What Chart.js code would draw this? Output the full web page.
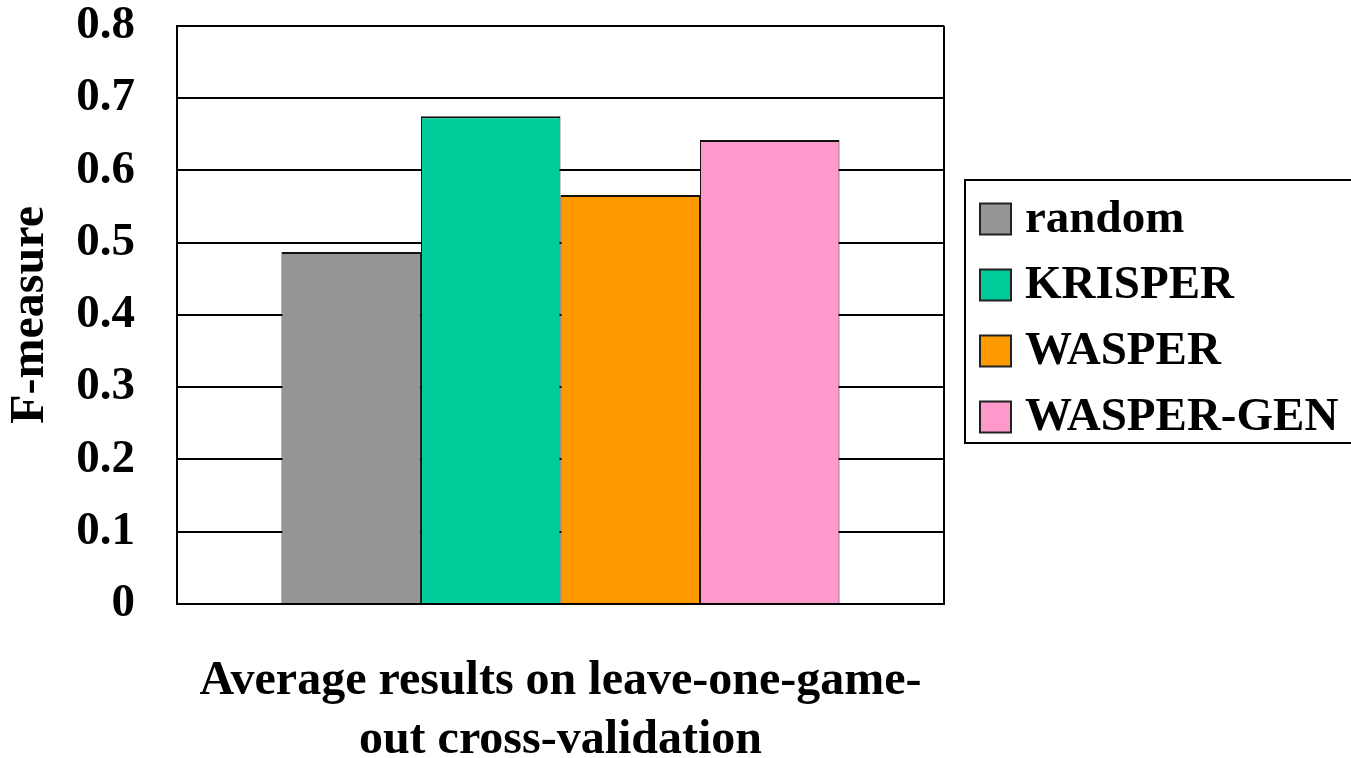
<!DOCTYPE html>
<html>
<head>
<meta charset="utf-8">
<script src="https://cdn.jsdelivr.net/npm/chart.js@4/dist/chart.umd.min.js"></script>
<style>
  html, body { margin: 0; padding: 0; background: #fff; }
  #wrap { width: 1351px; height: 758px; position: relative; }
</style>
</head>
<body>
<div id="wrap"><canvas id="c"></canvas></div>
<script>
const categories = [''];
const seriesNames = ['random', 'KRISPER', 'WASPER', 'WASPER-GEN'];
const randomValues = [0.487];
const krisperValues = [0.675];
const wasperValues = [0.566];
const wasperGenValues = [0.642];
const yTickLabels = ['0', '0.1', '0.2', '0.3', '0.4', '0.5', '0.6', '0.7', '0.8'];
const seriesColors = ['#969696', '#00CC99', '#FF9900', '#FF99CC'];
const xTitleLines = ['Average results on leave-one-game-', 'out cross-validation'];
const yTitle = 'F-measure';

const FONT = '"Liberation Serif", "Times New Roman", serif';

const boxedLegend = {
  id: 'boxedLegend',
  afterDraw(chart) {
    const ctx = chart.ctx;
    ctx.save();
    ctx.lineWidth = 2;
    ctx.strokeStyle = '#000';
    ctx.strokeRect(965, 180, 400, 263);
    ctx.font = 'bold 47px ' + FONT;
    ctx.textBaseline = 'middle';
    ctx.textAlign = 'left';
    chart.data.datasets.forEach((ds, i) => {
      const cy = 219 + i * 66;
      ctx.fillStyle = ds.backgroundColor;
      ctx.fillRect(980, cy - 15.5, 31, 31);
      ctx.lineWidth = 2;
      ctx.strokeStyle = '#222';
      ctx.strokeRect(980, cy - 15.5, 31, 31);
      ctx.fillStyle = '#000';
      ctx.fillText(ds.label, 1025, cy + 1);
    });
    ctx.restore();
  }
};

const seriesValues = [randomValues, krisperValues, wasperValues, wasperGenValues];

new Chart(document.getElementById('c'), {
  type: 'bar',
  data: {
    labels: categories,
    datasets: seriesNames.map((name, i) => ({
      label: name,
      data: seriesValues[i],
      backgroundColor: seriesColors[i],
      borderColor: '#111',
      borderWidth: { top: 2, left: 1, right: 1, bottom: 0 },
      barPercentage: 1.0,
      categoryPercentage: 0.7275
    }))
  },
  options: {
    responsive: true,
    maintainAspectRatio: false,
    animation: false,
    layout: { padding: { top: 0, right: 407, bottom: 0, left: 0 } },
    plugins: {
      legend: { display: false },
      tooltip: { enabled: false },
      title: { display: false }
    },
    scales: {
      x: {
        grid: { offset: true, color: '#000', lineWidth: 2, drawTicks: false },
        border: { display: true, color: '#000', width: 2 },
        ticks: { display: false },
        title: {
          display: true,
          text: xTitleLines,
          color: '#000',
          font: { family: FONT, size: 48, weight: 'bold', lineHeight: 1.23 },
          padding: { top: 48, bottom: -12 }
        }
      },
      y: {
        min: 0,
        max: 0.8,
        ticks: {
          stepSize: 0.1,
          color: '#000',
          padding: 0,
          font: { family: FONT, size: 47, weight: 'bold', lineHeight: 1.1 },
          callback: (v, i) => yTickLabels[i]
        },
        grid: { color: '#000', lineWidth: 2, drawTicks: true, tickLength: 42, tickColor: 'rgba(0,0,0,0)' },
        border: { display: true, color: '#000', width: 2 },
        title: {
          display: true,
          text: yTitle,
          color: '#000',
          font: { family: FONT, size: 48, weight: 'bold', lineHeight: 1.2 },
          padding: { top: 2, bottom: 16.6 }
        }
      }
    }
  },
  plugins: [boxedLegend]
});
</script>
</body>
</html>
